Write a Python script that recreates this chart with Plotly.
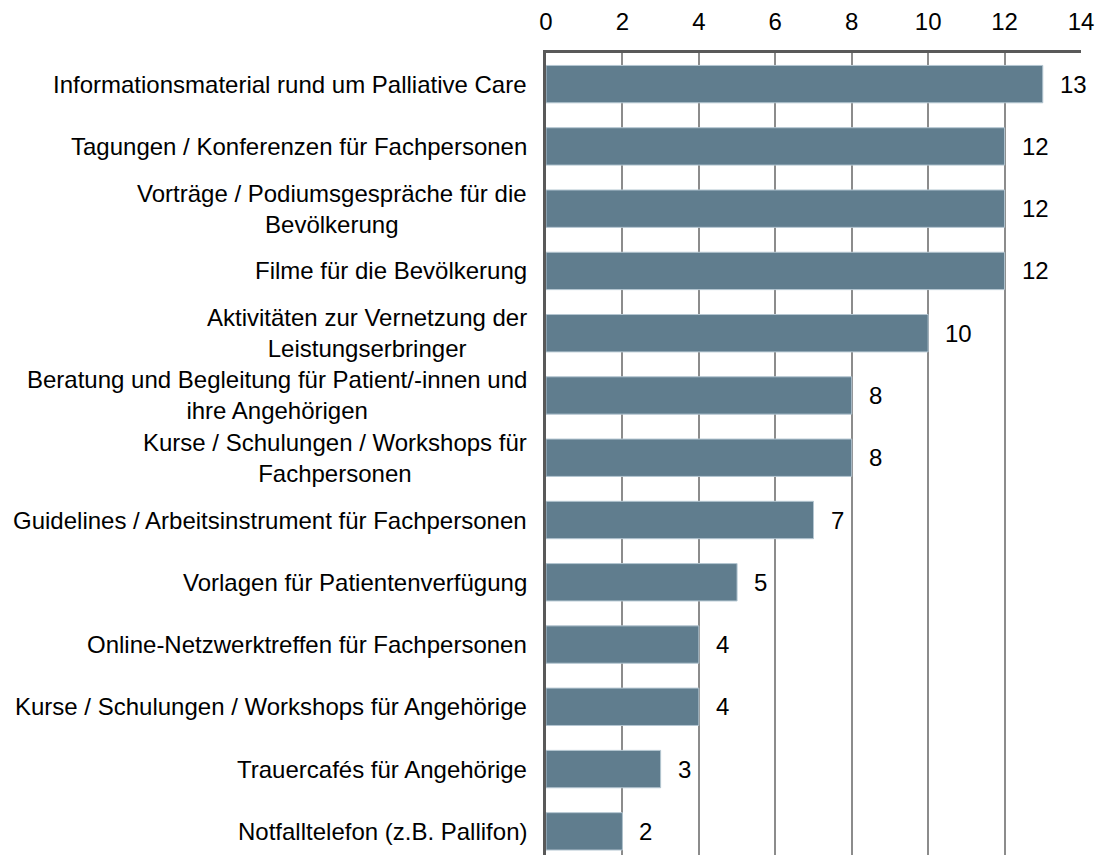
import plotly.graph_objects as go

categories = [
    "Informationsmaterial rund um Palliative Care",
    "Tagungen / Konferenzen für Fachpersonen",
    "Vorträge / Podiumsgespräche für die<br>Bevölkerung",
    "Filme für die Bevölkerung",
    "Aktivitäten zur Vernetzung der<br>Leistungserbringer",
    "Beratung und Begleitung für Patient/-innen und<br>ihre Angehörigen",
    "Kurse / Schulungen / Workshops für<br>Fachpersonen",
    "Guidelines / Arbeitsinstrument für Fachpersonen",
    "Vorlagen für Patientenverfügung",
    "Online-Netzwerktreffen für Fachpersonen",
    "Kurse / Schulungen / Workshops für Angehörige",
    "Trauercafés für Angehörige",
    "Notfalltelefon (z.B. Pallifon)",
]
values = [13, 12, 12, 12, 10, 8, 8, 7, 5, 4, 4, 3, 2]
x_ticks = [0, 2, 4, 6, 8, 10, 12, 14]

FONT = "Liberation Sans, Arial, sans-serif"
FS = 24
ypos = list(range(len(categories)))

fig = go.Figure()
fig.add_trace(go.Bar(
    x=values, y=ypos, orientation="h", width=0.6,
    marker=dict(color="#607d8e", line=dict(color="#b4c6d1", width=1)),
    hoverinfo="skip",
))

annotations = []
for yi, cat, v in zip(ypos, categories, values):
    annotations.append(dict(
        x=0, y=yi, xref="x", yref="y", text=cat, showarrow=False,
        xanchor="right", yanchor="middle", align="center", xshift=-17,
        font=dict(family=FONT, size=FS, color="#000000"),
    ))
    annotations.append(dict(
        x=v, y=yi, xref="x", yref="y", text=str(v), showarrow=False,
        xanchor="left", yanchor="middle", xshift=15,
        font=dict(family=FONT, size=FS, color="#000000"),
    ))

fig.update_layout(
    width=1097, height=847,
    margin=dict(l=538, r=24, t=42, b=0),
    paper_bgcolor="white", plot_bgcolor="white",
    showlegend=False,
    annotations=annotations,
    font=dict(family=FONT, size=FS, color="#000000"),
    xaxis=dict(
        side="top", range=[0, 14], tickvals=x_ticks,
        showgrid=True, gridcolor="#8c8c8c", gridwidth=1.5,
        showline=True, linecolor="#595959", linewidth=3,
        zeroline=False, ticks="", ticklabelstandoff=10,
        tickfont=dict(family=FONT, size=FS, color="#000000"),
        fixedrange=True,
    ),
    yaxis=dict(
        range=[12.38, -0.5], showticklabels=False, showgrid=False,
        showline=True, linecolor="#595959", linewidth=3,
        zeroline=False, ticks="", fixedrange=True,
    ),
)

fig.write_html("out.html")
